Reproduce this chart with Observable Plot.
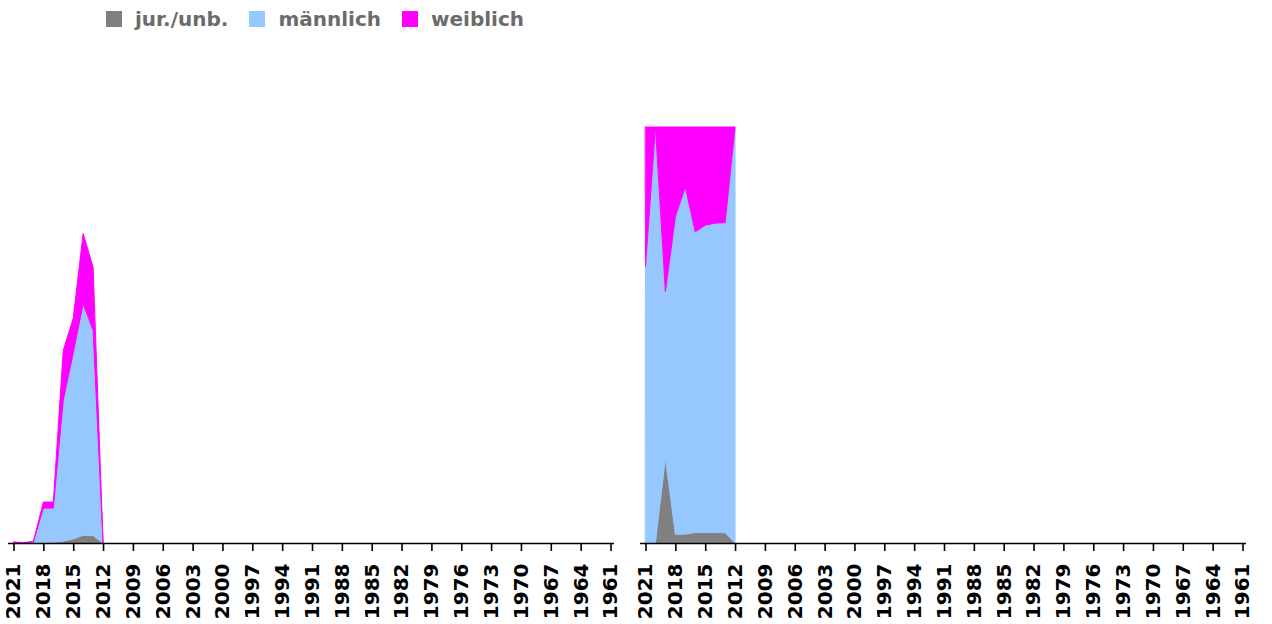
<!DOCTYPE html>
<html>
<head>
<meta charset="utf-8">
<script src="https://cdn.jsdelivr.net/npm/d3@7"></script>
<script src="https://cdn.jsdelivr.net/npm/@observablehq/plot@0.6"></script>
<style>
  html, body { margin: 0; padding: 0; background: #fff; width: 1272px; height: 624px; overflow: hidden; }
  #legend { position: absolute; left: 106px; top: 7px; display: flex; align-items: center;
            font-family: "DejaVu Sans", sans-serif; font-weight: bold; font-size: 20px; color: #6b6b6b; }
  #legend .sw { width: 16px; height: 16px; margin-right: 13px; }
  #legend .lb { margin-right: 21px; }
  #charts { position: absolute; left: 0; top: 40px; display: flex; }
</style>
</head>
<body>
<div id="legend"></div>
<div id="charts"></div>
<script>
// ---- data ----
const years = [2021, 2020, 2019, 2018, 2017, 2016, 2015, 2014, 2013, 2012];
const seriesNames = ["jur./unb.", "männlich", "weiblich"];
const seriesColors = ["#808080", "#96c8ff", "#ff00ff"];
const tickYears = [2021, 2018, 2015, 2012, 2009, 2006, 2003, 2000, 1997, 1994, 1991, 1988, 1985,
                   1982, 1979, 1976, 1973, 1970, 1967, 1964, 1961];

// absolute values (left panel)
const absJur    = [0, 0, 1,   1,   2,   5,  12,  23,  22, 0];
const absMale   = [2, 1, 2, 104, 103, 424, 558, 696, 617, 0];
const absFemale = [1, 0, 2,  18,  18, 150, 105, 211, 190, 0];

// shares in percent (right panel)
const pctJur    = [0,     0, 20.4,  2.1,  2.1,  2.5,  2.5,  2.5,  2.5,   0];
const pctMale   = [66.5, 100, 40.0, 76.3, 83.5, 72.3, 73.9, 74.4, 74.5, 100];
const pctFemale = [33.5,   0, 39.6, 21.6, 14.4, 25.2, 23.6, 23.1, 23.0,   0];

function tidy(jur, male, female) {
  const cols = [jur, male, female];
  return seriesNames.flatMap((s, k) => years.map((y, i) => ({year: y, series: s, value: cols[k][i]})));
}

// ---- legend ----
const legend = document.getElementById("legend");
seriesNames.forEach((s, i) => {
  const sw = document.createElement("div");
  sw.className = "sw"; sw.style.background = seriesColors[i];
  const lb = document.createElement("div");
  lb.className = "lb"; lb.textContent = s;
  legend.appendChild(sw); legend.appendChild(lb);
});

function chart(data, yMax, marginLeft, marginRight) {
  return Plot.plot({
    width: 636,
    height: 584,
    marginTop: 87,
    marginBottom: 81,
    marginLeft,
    marginRight,
    style: {fontFamily: "DejaVu Sans, sans-serif", fontSize: "20px", fontWeight: "bold", color: "#000", background: "transparent", overflow: "visible"},
    x: {domain: [2021, 1961], insetLeft: 5.5, insetRight: 3.5},
    y: {domain: [0, yMax], axis: null},
    color: {domain: seriesNames, range: seriesColors},
    marks: [
      Plot.areaY(data, {x: "year", y: "value", fill: "series", stroke: "series", strokeWidth: 1,
                        order: seriesNames, curve: "linear"}),
      Plot.ruleY([0], {stroke: "#000", strokeWidth: 1.6}),
      Plot.axisX({ticks: tickYears, tickFormat: d => String(d), tickRotate: -90,
                  tickSize: 8, tickPadding: 12, stroke: "#000", strokeWidth: 1.6, label: null})
    ]
  });
}

const charts = document.getElementById("charts");
charts.appendChild(chart(tidy(absJur, absMale, absFemale), 1250, 8, 22));
charts.appendChild(chart(tidy(pctJur, pctMale, pctFemale), 100, 4, 26));
</script>
</body>
</html>
